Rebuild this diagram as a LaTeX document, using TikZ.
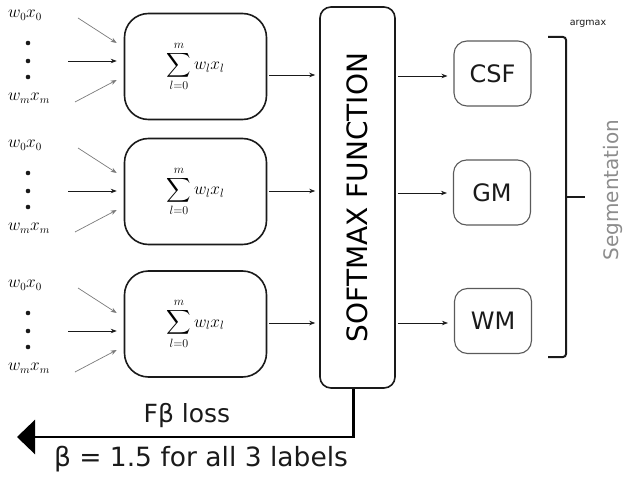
\documentclass[tikz,border=0pt]{standalone}
\usepackage{amsmath,amssymb}
\usepackage{fontspec}
\setsansfont{DejaVu Sans}
\usepackage{tikz}
\usetikzlibrary{arrows.meta,positioning,calc}
\definecolor{cLine}{HTML}{1A1A1A}
\definecolor{cFrame}{HTML}{5A5A5A}
\definecolor{cGrey}{HTML}{7A7A7A}
\definecolor{cSeg}{HTML}{8C8C8C}
\tikzset{
  sumbox/.style={rounded corners=24pt, draw=cLine, line width=1.6pt, minimum width=142pt,
                 minimum height=106pt, inner sep=0pt, font=\fontsize{17}{20}\selectfont},
  smbox/.style={rounded corners=11pt, draw=cLine, line width=1.6pt, minimum width=381pt,
                minimum height=75pt, rotate=90, inner sep=0pt, font=\sffamily\fontsize{28}{30}\selectfont},
  clsbox/.style={rounded corners=13pt, draw=cFrame, line width=1.1pt, minimum width=77pt,
                 minimum height=65pt, font=\sffamily\fontsize{24}{26}\selectfont, text=cLine},
  inlbl/.style={font=\fontsize{16}{18}\selectfont, inner sep=0pt},
  flow/.style={-{Stealth[length=6pt,width=4.5pt]}, line width=0.7pt, draw=cLine},
  inflow/.style={flow, draw=cGrey},
  loss/.style={-{Triangle[length=18pt,width=34pt]}, line width=2.6pt, draw=black},
  losslbl/.style={font=\sffamily\fontsize{25}{28}\selectfont, text=cLine, inner sep=0pt},
  brace/.style={line width=2pt, draw=cLine, rounded corners=3pt},
}
\begin{document}
\begin{tikzpicture}[x=1pt,y=-1pt]
  \useasboundingbox (0,0) rectangle (623,481);
  \node[sumbox] (s1) at (195.5,66.5) {$\displaystyle\sum_{l=0}^{m} w_l x_l$};
  \node[sumbox] (s2) at (195.5,191.5) {$\displaystyle\sum_{l=0}^{m} w_l x_l$};
  \node[sumbox] (s3) at (195.5,324) {$\displaystyle\sum_{l=0}^{m} w_l x_l$};
  \node[smbox] (sm) at (357.5,197.5) {SOFTMAX FUNCTION};
  \node[clsbox] (csf) at (492.5,73.5) {CSF};
  \node[clsbox] (gm) at (492,192.5) {GM};
  \node[clsbox] (wm) at (493,321) {WM};
  \foreach \i/\m in {1/61,2/191,3/331}{
    \node[inlbl] (wa\i) at (25,\m-46) {$w_0x_0$};
    \node[inlbl] (wb\i) at (29,\m+37) {$w_mx_m$};
    \foreach \d in {-18,0,16} \fill[cLine] (28,\m+\d) circle (2.3pt);
    \coordinate (pa\i) at (78,\m-43);
    \coordinate (pb\i) at (68,\m);
    \coordinate (pc\i) at (75,\m+41);
    \draw[inflow] (pa\i) -- ([xshift=-7pt]s\i.west |- 0,\m-18);
    \draw[flow] (pb\i) -- ([xshift=-7pt]s\i.west |- pb\i);
    \draw[inflow] (pc\i) -- ([xshift=-7pt]s\i.west |- 0,\m+19);
  }
  \draw[flow,shorten <=2pt,shorten >=4pt](s1.east |- 0,75)--(sm.north |- 0,75);
  \draw[flow,shorten <=2pt,shorten >=4pt](s2.east |- 0,191)--(sm.north |- 0,191);
  \draw[flow,shorten <=2pt,shorten >=4pt](s3.east |- 0,323)--(sm.north |- 0,323);
  \draw[flow,shorten <=2pt,shorten >=6pt](sm.south |- 0,76)--(csf.west |- 0,76);
  \draw[flow,shorten <=2pt,shorten >=6pt](sm.south |- 0,193)--(gm.west |- 0,193);
  \draw[flow,shorten <=2pt,shorten >=6pt](sm.south |- 0,323)--(wm.west |- 0,323);
  \draw[brace] (548,37) -- (566,37) -- (566,357) -- (548,357);
  \draw[brace] (566,197) -- (585,197);
  \node[font=\sffamily\fontsize{9.5}{10}\selectfont, text=cLine] (amax) at (588,24) {argmax};
  \node[rotate=90, font=\sffamily\fontsize{20}{22}\selectfont, text=cSeg] (seg) at (613,190) {Segmentation};
  \coordinate (lend) at (17,437);
  \draw[loss] ([xshift=-4pt]sm.west) |- (lend);
  \node[losslbl] (lname) at (187,416) {Fβ loss};
  \node[losslbl, font=\sffamily\fontsize{26.5}{28}\selectfont] (lbeta) at (201,459) {β = 1.5 for all 3 labels};
\end{tikzpicture}
\end{document}
